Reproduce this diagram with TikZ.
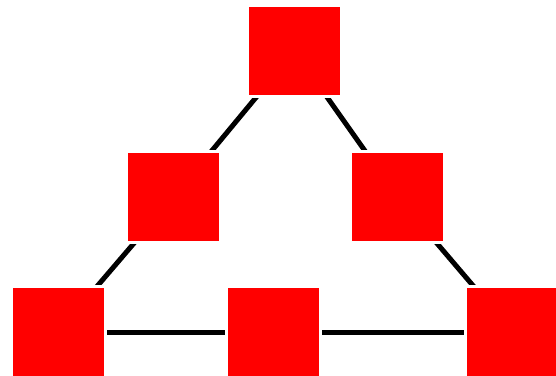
\documentclass[tikz,border=0pt]{standalone}
\pgfdeclarelayer{background}
\pgfsetlayers{background,main}
\begin{document}
\begin{tikzpicture}[x=1pt,y=-1pt,
  box/.style={fill=red,draw=white,line width=3pt,minimum width=94pt,minimum height=91pt,inner sep=0pt,outer sep=0pt},
  link/.style={line width=5pt,black,line cap=round}]
\useasboundingbox (0,0) rectangle (556,375);
\node[box] (t) at (294.5,51) {};
\node[box] (ml) at (173.5,197) {};
\node[box] (mr) at (397.5,197) {};
\node[box] (bl) at (58,332) {};
\node[box] (bm) at (273.5,332) {};
\node[box] (br) at (512.5,332) {};
\begin{pgfonlayer}{background}
\draw[link] (t.center) -- (ml.center);
\draw[link] (ml.center) -- (bl.center);
\draw[link] (t.center) -- (mr.center);
\draw[link] (mr.center) -- (br.center);
\draw[link] (bl.center) -- (bm.center);
\draw[link] (bm.center) -- (br.center);
\end{pgfonlayer}
\end{tikzpicture}
\end{document}
